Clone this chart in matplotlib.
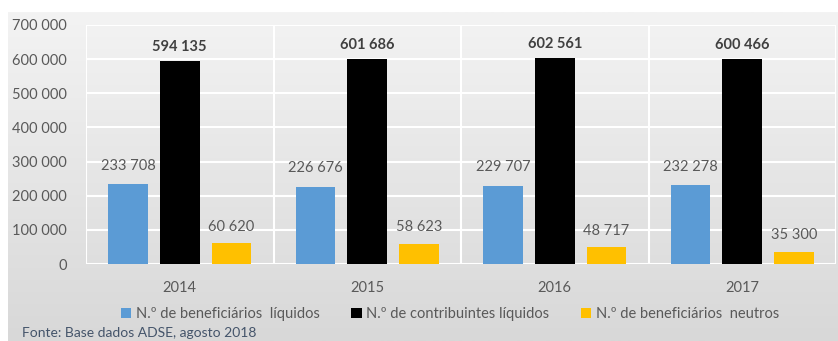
import numpy as np
import matplotlib.pyplot as plt
from matplotlib.ticker import FuncFormatter

anos = ["2014", "2015", "2016", "2017"]
benef_liquidos = [233708, 226676, 229707, 232278]
contrib_liquidos = [594135, 601686, 602561, 600466]
benef_neutros = [60620, 58623, 48717, 35300]
series_labels = ["N.º de beneficiários  líquidos",
                 "N.º de contribuintes líquidos",
                 "N.º de beneficiários  neutros"]
fonte = "Fonte: Base dados ADSE, agosto 2018"

plt.rcParams['font.family'] = ['Lato', 'DejaVu Sans']
txt = "#595959"

def fmt(v):
    return f"{v:,.0f}".replace(",", " ")

fig = plt.figure(figsize=(8.38, 3.41), dpi=100)

# grey gradient panel behind the chart
bg = fig.add_axes([8/838, 0, 1 - 8/838, 1 - 12/341], zorder=0)
grad = np.linspace(0, 1, 256).reshape(-1, 1)
bg.imshow(grad, aspect="auto", cmap=plt.matplotlib.colors.LinearSegmentedColormap.from_list(
    "g", ["#f3f3f3", "#d8d8d8"]), extent=[0, 1, 0, 1], origin="upper")
bg.axis("off")

ax = fig.add_axes([86/838, 1 - 264/341, 750/838, 239/341], zorder=1)
ax.patch.set_alpha(0)

x = np.arange(len(anos))
w = 0.213
off = 0.276
b1 = ax.bar(x - off, benef_liquidos, w, color="#5B9BD5", label=series_labels[0], zorder=3)
b2 = ax.bar(x, contrib_liquidos, w, color="#000000", label=series_labels[1], zorder=3)
b3 = ax.bar(x + off, benef_neutros, w, color="#FFC000", label=series_labels[2], zorder=3)

for bars, vals, bold, pad in [(b1, benef_liquidos, False, 8), (b2, contrib_liquidos, True, 5),
                              (b3, benef_neutros, False, 7)]:
    for r, v in zip(bars, vals):
        ax.annotate(fmt(v), (r.get_x() + r.get_width() / 2, v), xytext=(0, pad),
                    textcoords="offset points", ha="center", va="bottom",
                    fontsize=10.5, color="#404040" if bold else txt,
                    fontweight="bold" if bold else "normal")

ax.set_ylim(0, 700000)
ax.set_xlim(-0.5, 3.5)
ax.set_yticks(np.arange(0, 700001, 100000))
ax.yaxis.set_major_formatter(FuncFormatter(lambda v, p: fmt(v)))
ax.set_xticks(x)
ax.set_xticklabels(anos)
ax.tick_params(length=0, labelsize=10.5, labelcolor=txt)
ax.tick_params(axis="x", pad=12)
ax.tick_params(axis="y", pad=14)
ax.grid(axis="y", color="white", linewidth=1.5, zorder=1)
for xv in np.arange(-0.5, 4, 1):
    ax.axvline(xv, color="white", linewidth=1.5, zorder=1)
for s in ax.spines.values():
    s.set_visible(False)

fig.legend(loc="center", bbox_to_anchor=(0.537, 1 - 314/341), ncol=3, frameon=False,
           fontsize=10.5, labelcolor=txt, handlelength=0.7, handleheight=0.7,
           handletextpad=0.3, columnspacing=2.2)
fig.text(22/838, 1 - 333/341, fonte, fontsize=10, color="#44546A", va="center")

fig.savefig("out.png", dpi=100)
